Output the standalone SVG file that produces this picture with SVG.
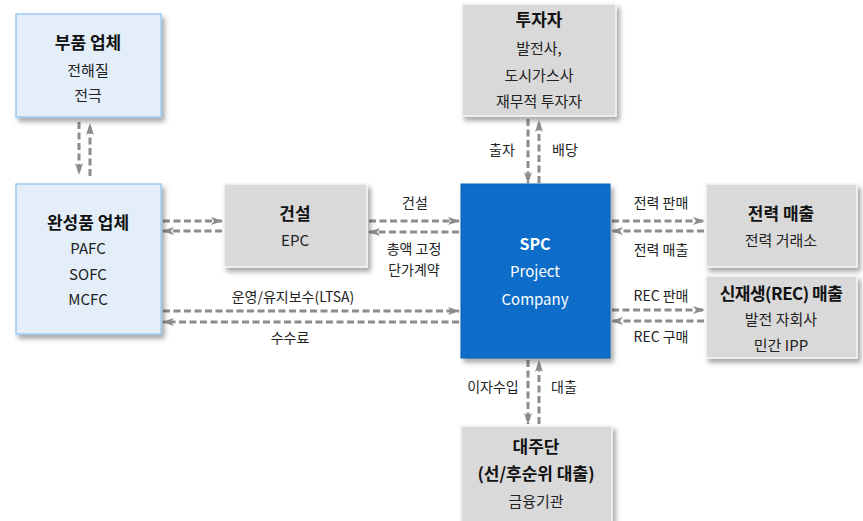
<svg xmlns="http://www.w3.org/2000/svg" width="863" height="521" viewBox="0 0 863 521">
<defs>
<filter id="sh" x="-10%" y="-10%" width="130%" height="130%">
<feDropShadow dx="3" dy="4" stdDeviation="2.5" flood-color="#000" flood-opacity="0.35"/>
</filter>
<marker id="ah" viewBox="0 0 12 10" refX="11" refY="5" markerWidth="12" markerHeight="10" markerUnits="userSpaceOnUse" orient="auto">
<path d="M0,1 L12,5 L0,9 L3,5 Z" fill="#8c8c8c"/>
</marker>
<style>
.blue{fill:#e3eef9;stroke:#9ccaf2;stroke-width:1.5}
.grey{fill:#d9d9d9;stroke:#f4f4f4;stroke-width:1.5}
.spc{fill:#0f6dc8;stroke:#0a5fb0;stroke-width:1}
text{font-family:"Noto Sans CJK KR","Noto Sans",sans-serif;text-anchor:middle;fill:#222}
.t{font-size:17px;font-weight:bold;fill:#111}
.s{font-size:15px}
.w{fill:#fff}
.l{font-size:14px}
.c{fill:none;stroke:#8c8c8c;stroke-width:3;stroke-dasharray:7 3.5;marker-end:url(#ah)}
</style>
</defs>
<rect width="863" height="521" fill="#fff"/>
<g id="connectors">
<line class="c" x1="79" y1="122" x2="79" y2="174"/>
<line class="c" x1="90" y1="176" x2="90" y2="124"/>
<line class="c" x1="163" y1="221" x2="222" y2="221"/>
<line class="c" x1="222" y1="231" x2="163" y2="231"/>
<line class="c" x1="369" y1="221" x2="459" y2="221"/>
<line class="c" x1="459" y1="232" x2="369" y2="232"/>
<line class="c" x1="163" y1="311" x2="459" y2="311"/>
<line class="c" x1="459" y1="322" x2="163" y2="322"/>
<line class="c" x1="528" y1="119" x2="528" y2="183"/>
<line class="c" x1="539" y1="183" x2="539" y2="121"/>
<line class="c" x1="612" y1="221" x2="704" y2="221"/>
<line class="c" x1="704" y1="231" x2="612" y2="231"/>
<line class="c" x1="612" y1="310" x2="704" y2="310"/>
<line class="c" x1="704" y1="321" x2="612" y2="321"/>
<line class="c" x1="528" y1="360" x2="528" y2="424"/>
<line class="c" x1="539" y1="424" x2="539" y2="361"/>
<text class="l" x="415" y="208">건설</text>
<text class="l" x="414" y="254">총액 고정</text>
<text class="l" x="414" y="275">단가계약</text>
<text class="l" x="293" y="302">운영/유지보수(LTSA)</text>
<text class="l" x="290" y="343">수수료</text>
<text class="l" x="502" y="155">출자</text>
<text class="l" x="565" y="155">배당</text>
<text class="l" x="661" y="208">전력 판매</text>
<text class="l" x="661" y="255">전력 매출</text>
<text class="l" x="661" y="301">REC 판매</text>
<text class="l" x="661" y="342">REC 구매</text>
<text class="l" x="493" y="392">이자수입</text>
<text class="l" x="564" y="392">대출</text>
</g>
<g id="parts">
<rect class="blue" x="16" y="14" width="145" height="103" filter="url(#sh)"/>
<text class="t" x="88" y="49">부품 업체</text>
<text class="s" x="88" y="76">전해질</text>
<text class="s" x="88" y="101">전극</text>
</g>
<g id="finished">
<rect class="blue" x="16" y="184" width="145" height="150" filter="url(#sh)"/>
<text class="t" x="88" y="229">완성품 업체</text>
<text class="s" x="88" y="254">PAFC</text>
<text class="s" x="88" y="280">SOFC</text>
<text class="s" x="88" y="305">MCFC</text>
</g>
<g id="construction">
<rect class="grey" x="224" y="184" width="143" height="83" filter="url(#sh)"/>
<text class="t" x="295" y="220">건설</text>
<text class="s" x="295" y="246">EPC</text>
</g>
<g id="spc">
<rect class="spc" x="461" y="184" width="149" height="174" filter="url(#sh)"/>
<text class="s w" x="535" y="250" font-weight="bold" style="font-size:16px">SPC</text>
<text class="s w" x="535" y="277">Project</text>
<text class="s w" x="535" y="305">Company</text>
</g>
<g id="investor">
<rect class="grey" x="462" y="4" width="154" height="112" filter="url(#sh)"/>
<text class="t" x="539" y="26">투자자</text>
<text class="s" x="539" y="54">발전사,</text>
<text class="s" x="539" y="81">도시가스사</text>
<text class="s" x="539" y="107">재무적 투자자</text>
</g>
<g id="power">
<rect class="grey" x="706" y="184" width="151" height="83" filter="url(#sh)"/>
<text class="t" x="781" y="220">전력 매출</text>
<text class="s" x="781" y="246">전력 거래소</text>
</g>
<g id="rec">
<rect class="grey" x="706" y="276" width="151" height="82" filter="url(#sh)"/>
<text class="t" x="781" y="300" style="letter-spacing:-0.5px">신재생(REC) 매출</text>
<text class="s" x="781" y="325">발전 자회사</text>
<text class="s" x="781" y="351">민간 IPP</text>
</g>
<g id="lenders">
<rect class="grey" x="461" y="426" width="151" height="100" filter="url(#sh)"/>
<text class="t" x="536" y="453">대주단</text>
<text class="t" x="536" y="480">(선/후순위 대출)</text>
<text class="s" x="536" y="507">금융기관</text>
</g>
</svg>
